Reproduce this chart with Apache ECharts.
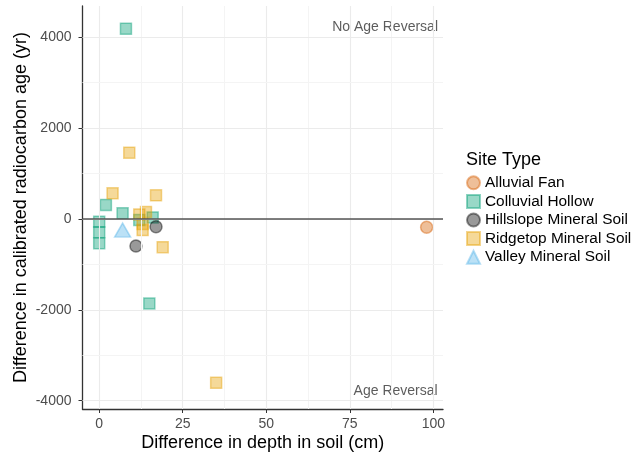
<!DOCTYPE html>
<html>
<head>
<meta charset="utf-8">
<script src="https://cdn.jsdelivr.net/npm/echarts@6/dist/echarts.min.js"></script>
<style>
html,body{margin:0;padding:0;background:#fff;}
#chart{width:635px;height:455px;}
</style>
</head>
<body>
<div id="chart"></div>
<script>
// ---- data ----
var alluvialX = [98];
var alluvialY = [-180];
var colluvialX = [8, 2, 0, 0, 0, 7, 12, 16, 15];
var colluvialY = [4190, 310, -60, -290, -535, 125, -20, 35, -1860];
var hillslopeX = [17, 11];
var hillslopeY = [-170, -595];
var ridgetopX = [9, 4, 17, 14, 12, 13, 13, 19, 35];
var ridgetopY = [1460, 565, 520, 155, 100, -110, -245, -620, -3605];
var valleyX = [7];
var valleyY = [-245];

var siteTypes = ['Alluvial Fan', 'Colluvial Hollow', 'Hillslope Mineral Soil', 'Ridgetop Mineral Soil', 'Valley Mineral Soil'];

var xTicks = [0, 25, 50, 75, 100];
var yTicks = [-4000, -2000, 0, 2000, 4000];
var xMinorGrid = [12.5, 37.5, 62.5, 87.5];
var yMinorGrid = [-3000, -1000, 1000, 3000];

var annotTexts = ['No Age Reversal', 'Age Reversal'];
var annotX = [101.4, 101.3];
var annotY = [4230, -3790];

function pairs(xs, ys) { return xs.map(function (x, i) { return [x, ys[i]]; }); }

var FONT = '"Liberation Sans", Arial, Helvetica, sans-serif';

function style(r, g, b) {
  return {
    color: 'rgba(' + r + ',' + g + ',' + b + ',0.5)',
    borderColor: 'rgba(' + r + ',' + g + ',' + b + ',0.55)',
    borderWidth: 1.5
  };
}

var gridLines = [];
xTicks.forEach(function (v) { gridLines.push({ xAxis: v, lineStyle: { color: '#ebebeb', width: 1.1, type: 'solid' } }); });
xMinorGrid.forEach(function (v) { gridLines.push({ xAxis: v, lineStyle: { color: '#f4f4f4', width: 1, type: 'solid' } }); });
yTicks.forEach(function (v) { gridLines.push({ yAxis: v, lineStyle: { color: '#ebebeb', width: 1.1, type: 'solid' } }); });
yMinorGrid.forEach(function (v) { gridLines.push({ yAxis: v, lineStyle: { color: '#f4f4f4', width: 1, type: 'solid' } }); });
gridLines.push({ yAxis: 0, lineStyle: { color: '#555', width: 1.6, type: 'solid' } });

var chart = echarts.init(document.getElementById('chart'), null, { renderer: 'canvas' });
chart.setOption({
  animation: false,
  backgroundColor: '#ffffff',
  textStyle: { fontFamily: FONT },
  title: {
    text: 'Site Type',
    left: 466, top: 151, padding: 0,
    textStyle: { fontFamily: FONT, fontSize: 18, fontWeight: 'normal', color: '#000' }
  },
  legend: {
    data: siteTypes,
    orient: 'vertical',
    left: 466, top: 175.3, padding: 0,
    itemWidth: 13, itemHeight: 13, itemGap: 3.6,
    textStyle: { fontFamily: FONT, fontSize: 15.4, color: '#000' },
    selectedMode: false
  },
  grid: { left: 82.5, right: 192, top: 6, bottom: 46, containLabel: false, outerBoundsMode: 'none' },
  xAxis: {
    type: 'value', min: -5.0, max: 102.9, z: 2,
    name: 'Difference in depth in soil (cm)', nameLocation: 'middle', nameGap: 25, nameMoveOverlap: false,
    nameTextStyle: { fontFamily: FONT, fontSize: 18, color: '#000' },
    axisLine: { show: true, onZero: false, lineStyle: { color: '#333', width: 1.3 } },
    axisTick: { show: true, length: 4, customValues: xTicks, lineStyle: { color: '#333', width: 1 } },
    axisLabel: { customValues: xTicks, margin: 8.5, fontFamily: FONT, fontSize: 14, color: '#4d4d4d', formatter: function (v) { return String(v); } },
    splitLine: { show: false }
  },
  yAxis: {
    type: 'value', min: -4183, max: 4689, z: 2,
    name: 'Difference in calibrated radiocarbon age (yr)', nameLocation: 'middle', nameGap: 52.5, nameRotate: 90, nameMoveOverlap: false,
    nameTextStyle: { fontFamily: FONT, fontSize: 18, color: '#000' },
    axisLine: { show: true, onZero: false, lineStyle: { color: '#333', width: 1.3 } },
    axisTick: { show: true, length: 4, customValues: yTicks, lineStyle: { color: '#333', width: 1 } },
    axisLabel: { customValues: yTicks, margin: 11, fontFamily: FONT, fontSize: 14, color: '#4d4d4d', formatter: function (v) { return String(v); } },
    splitLine: { show: false }
  },
  series: [
    {
      name: 'grid', type: 'scatter', data: [], silent: true, z: 1,
      markLine: { silent: true, symbol: 'none', label: { show: false }, animation: false, data: gridLines }
    },
    { name: 'Colluvial Hollow', type: 'scatter', symbol: 'rect', symbolSize: 11, data: pairs(colluvialX, colluvialY), itemStyle: style(0, 158, 115), z: 3 },
    { name: 'Ridgetop Mineral Soil', type: 'scatter', symbol: 'rect', symbolSize: 11, data: pairs(ridgetopX, ridgetopY), itemStyle: style(230, 159, 0), z: 3 },
    { name: 'Hillslope Mineral Soil', type: 'scatter', symbol: 'circle', symbolSize: 12, data: pairs(hillslopeX, hillslopeY), itemStyle: style(0, 0, 0), z: 3 },
    { name: 'Valley Mineral Soil', type: 'scatter', symbol: 'triangle', symbolSize: [16, 14], data: pairs(valleyX, valleyY), itemStyle: style(86, 180, 233), z: 3 },
    { name: 'Alluvial Fan', type: 'scatter', symbol: 'circle', symbolSize: 12, data: pairs(alluvialX, alluvialY), itemStyle: style(213, 94, 0), z: 3 },
    {
      name: 'annotations', type: 'scatter', symbolSize: 0, silent: true, z: 4,
      data: annotTexts.map(function (t, i) { return { name: t, value: [annotX[i], annotY[i]] }; }),
      label: {
        show: true, position: [0, 0], align: 'right', verticalAlign: 'middle',
        formatter: function (p) { return p.name; },
        fontFamily: FONT, fontSize: 14, color: '#333'
      }
    }
  ]
});
</script>
</body>
</html>
